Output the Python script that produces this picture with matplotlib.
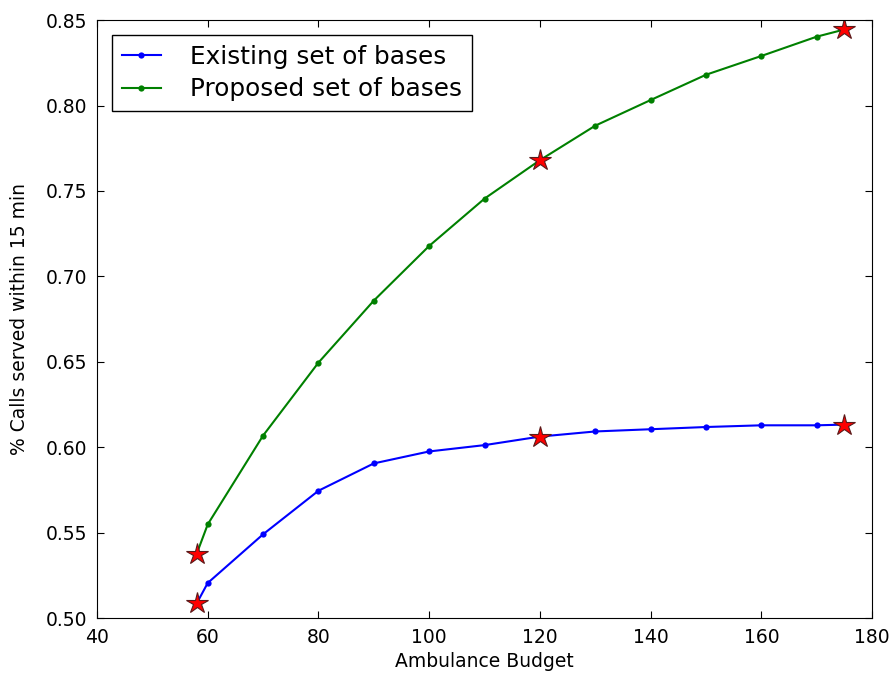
import matplotlib
matplotlib.use("Agg")
import matplotlib.pyplot as plt

budget = [58, 60, 70, 80, 90, 100, 110, 120, 130, 140, 150, 160, 170, 175]
existing = [0.5085, 0.5205, 0.5490, 0.5745, 0.5905, 0.5975, 0.6012, 0.6062, 0.6092, 0.6105, 0.6118, 0.6128, 0.6128, 0.6132]
proposed = [0.5375, 0.5548, 0.6068, 0.6495, 0.6858, 0.7178, 0.7455, 0.7680, 0.7882, 0.8032, 0.8180, 0.8290, 0.8403, 0.8445]

star_budget = [58, 120, 175]
star_existing = [0.5085, 0.6062, 0.6132]
star_proposed = [0.5375, 0.7680, 0.8445]

plt.rcParams['xtick.direction'] = 'in'
plt.rcParams['ytick.direction'] = 'in'
plt.rcParams['xtick.top'] = True
plt.rcParams['ytick.right'] = True
plt.rcParams['xtick.major.size'] = 5
plt.rcParams['ytick.major.size'] = 5

fig = plt.figure(figsize=(8.94, 6.81), dpi=100)
ax = fig.add_axes([0.1085, 0.0925, 0.867, 0.878])

ax.plot(budget, existing, color='#0000ff', marker='o', markersize=4.5, linewidth=1.5,
        markeredgewidth=0, label='Existing set of bases')
ax.plot(budget, proposed, color='#008000', marker='o', markersize=4.5, linewidth=1.5,
        markeredgewidth=0, label='Proposed set of bases')
ax.plot(star_budget, star_existing, linestyle='none', marker='*', markersize=16,
        color='red', markeredgecolor='#5a1a1a', markeredgewidth=0.8)
ax.plot(star_budget, star_proposed, linestyle='none', marker='*', markersize=16,
        color='red', markeredgecolor='#5a1a1a', markeredgewidth=0.8)

ax.set_xlim(40, 180)
ax.set_ylim(0.50, 0.85)
ax.set_xticks(range(40, 181, 20))
ax.set_yticks([0.50, 0.55, 0.60, 0.65, 0.70, 0.75, 0.80, 0.85])
ax.set_yticklabels(['0.50', '0.55', '0.60', '0.65', '0.70', '0.75', '0.80', '0.85'])
ax.tick_params(labelsize=13.5, pad=7)
ax.set_xlabel('Ambulance Budget', fontsize=13.5)
ax.set_ylabel('% Calls served within 15 min', fontsize=13.5, labelpad=12)

leg = ax.legend(loc='upper left', fontsize=17.8, fancybox=False, framealpha=1,
                edgecolor='black', handlelength=1.6, borderpad=0.4, labelspacing=0.35,
                handletextpad=1.15, borderaxespad=0.6)
leg.get_frame().set_linewidth(1.0)

fig.savefig('out.png', dpi=100, facecolor='white')
